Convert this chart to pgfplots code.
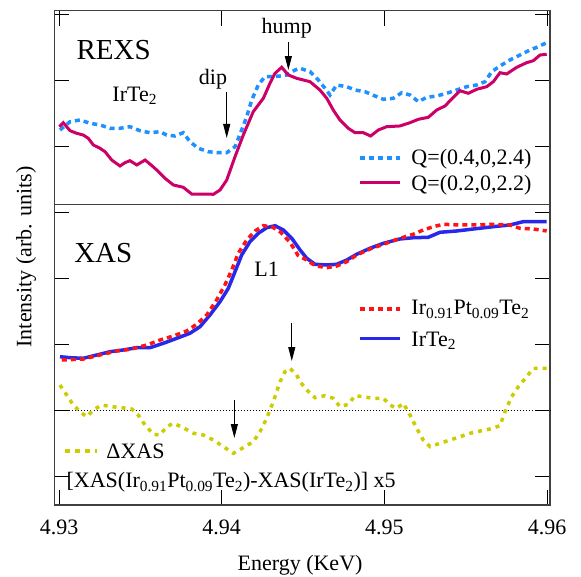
\documentclass[border=0pt]{standalone}
\usepackage{fontspec}
\setmainfont{Liberation Serif}
\usepackage{pgfplots}
\pgfplotsset{compat=1.18}
\usetikzlibrary{arrows.meta}

\definecolor{rexsblue}{RGB}{30,144,255}
\definecolor{rexsmag}{RGB}{204,0,102}
\definecolor{xasblue}{RGB}{40,40,235}
\definecolor{xasred}{RGB}{255,20,20}
\definecolor{dxas}{RGB}{204,204,0}

\newcommand\nf{\fontsize{22}{26}\selectfont}
\newcommand\bigf{\fontsize{29}{34}\selectfont}
\tikzset{arr/.style={line width=1pt, -{Triangle[length=14pt,width=7pt]}}}

\begin{document}
\begin{tikzpicture}
\begin{axis}[
  at={(0,0)}, anchor=south west,
  scale only axis, width=495.5pt, height=494.3pt,
  xmin=4.929723, xmax=4.960184, ymin=-0.4288, ymax=7.0606,
  xtick={4.93,4.94,4.95,4.96},
  xticklabels={4.93,4.94,4.95,4.96},
  ytick={0,...,7}, yticklabels={},
  tick align=inside, major tick length=15pt,
  tick style={black, line width=0.9pt},
  axis line style={black!75, line width=1.2pt},
  font=\nf,
  xticklabel style={yshift=-11.5pt},
  clip=false,
  every node/.append style={inner sep=0pt},
]
% separator between panels and zero line of Delta XAS
\addplot[black!75, line width=1pt] coordinates {(4.929723,4.127) (4.960184,4.127)};
\addplot[black, dotted, line width=1pt] coordinates {(4.929723,1) (4.960184,1)};

% REXS Q=(0.4,0,2.4)
\addplot[rexsblue, line width=3.5pt, dash pattern=on 5pt off 4pt] table {
4.93006 5.253
4.93068 5.379
4.93129 5.405
4.93191 5.355
4.93252 5.329
4.93314 5.279
4.93375 5.279
4.93436 5.303
4.93498 5.242
4.93559 5.212
4.93621 5.227
4.93662 5.177
4.93713 5.162
4.93764 5.212
4.93805 5.076
4.93856 4.976
4.93918 4.924
4.93979 4.909
4.94031 4.909
4.94082 5.000
4.94123 5.253
4.94154 5.455
4.94185 5.708
4.94225 5.935
4.94266 6.061
4.94308 6.061
4.94359 6.071
4.94400 6.086
4.94451 6.162
4.94482 6.188
4.94543 6.136
4.94594 6.011
4.94635 5.885
4.94666 5.783
4.94707 5.935
4.94769 5.909
4.94820 5.859
4.94881 5.833
4.94943 5.768
4.94994 5.718
4.95055 5.733
4.95107 5.818
4.95158 5.783
4.95209 5.682
4.95260 5.748
4.95322 5.768
4.95383 5.809
4.95445 5.859
4.95506 5.909
4.95568 5.935
4.95619 5.985
4.95660 6.136
4.95711 6.223
4.95772 6.314
4.95834 6.389
4.95895 6.465
4.95946 6.515
4.95998 6.576
};

% REXS Q=(0.2,0,2.2)
\addplot[rexsmag, line width=3pt] table {
4.93002 5.303
4.93026 5.364
4.93068 5.242
4.93109 5.203
4.93149 5.177
4.93180 5.127
4.93211 5.026
4.93252 4.976
4.93283 4.924
4.93324 4.798
4.93375 4.708
4.93406 4.758
4.93436 4.788
4.93478 4.723
4.93529 4.798
4.93559 4.738
4.93601 4.647
4.93652 4.521
4.93703 4.420
4.93764 4.385
4.93816 4.283
4.93867 4.283
4.93949 4.279
4.93990 4.344
4.94031 4.495
4.94082 4.848
4.94133 5.177
4.94194 5.530
4.94256 5.733
4.94297 5.961
4.94328 6.112
4.94369 6.203
4.94410 6.086
4.94461 6.036
4.94543 5.985
4.94604 5.859
4.94646 5.733
4.94686 5.556
4.94727 5.405
4.94778 5.279
4.94820 5.212
4.94871 5.212
4.94916 5.162
4.94963 5.253
4.95014 5.303
4.95096 5.314
4.95158 5.364
4.95209 5.415
4.95270 5.445
4.95322 5.556
4.95373 5.617
4.95424 5.748
4.95465 5.848
4.95516 5.809
4.95568 5.870
4.95629 5.909
4.95670 5.985
4.95711 6.121
4.95752 6.102
4.95814 6.203
4.95875 6.273
4.95916 6.303
4.95957 6.389
4.95998 6.400
};

% XAS IrTe2
\addplot[xasblue, line width=3.5pt] table {
4.93006 1.818
4.93068 1.803
4.93149 1.794
4.93232 1.844
4.93314 1.894
4.93395 1.920
4.93478 1.955
4.93559 1.955
4.93641 2.021
4.93724 2.097
4.93805 2.173
4.93867 2.273
4.93928 2.450
4.93990 2.652
4.94041 2.855
4.94082 3.106
4.94123 3.359
4.94174 3.561
4.94225 3.688
4.94277 3.773
4.94328 3.803
4.94379 3.738
4.94431 3.612
4.94482 3.435
4.94523 3.309
4.94574 3.218
4.94646 3.208
4.94707 3.218
4.94769 3.283
4.94830 3.370
4.94912 3.461
4.94994 3.536
4.95096 3.602
4.95178 3.621
4.95270 3.627
4.95342 3.703
4.95445 3.723
4.95547 3.753
4.95670 3.788
4.95772 3.814
4.95854 3.864
4.95916 3.864
4.95998 3.864
};

% XAS Ir0.91Pt0.09Te2
\addplot[xasred, line width=3.5pt, dash pattern=on 5pt off 4pt] table {
4.93017 1.768
4.93149 1.783
4.93252 1.844
4.93355 1.905
4.93436 1.930
4.93539 1.995
4.93621 2.071
4.93703 2.132
4.93785 2.208
4.93846 2.309
4.93908 2.450
4.93969 2.677
4.94020 2.905
4.94062 3.132
4.94102 3.385
4.94154 3.586
4.94205 3.723
4.94256 3.803
4.94308 3.788
4.94359 3.712
4.94420 3.552
4.94471 3.348
4.94523 3.283
4.94574 3.197
4.94646 3.167
4.94707 3.192
4.94769 3.258
4.94830 3.359
4.94912 3.450
4.94994 3.521
4.95096 3.612
4.95178 3.673
4.95239 3.738
4.95301 3.788
4.95362 3.824
4.95465 3.814
4.95568 3.814
4.95670 3.824
4.95772 3.814
4.95834 3.764
4.95916 3.753
4.95998 3.723
};

% Delta XAS x5, zero at y=1
\addplot[dxas, line width=3.5pt, dash pattern=on 4pt off 5pt] table {
4.93006 1.389
4.93047 1.238
4.93088 1.086
4.93129 0.985
4.93170 0.909
4.93211 1.011
4.93262 1.086
4.93324 1.061
4.93385 1.045
4.93447 1.026
4.93487 0.935
4.93529 0.783
4.93580 0.642
4.93621 0.632
4.93662 0.758
4.93703 0.809
4.93764 0.742
4.93826 0.658
4.93887 0.632
4.93949 0.556
4.94010 0.455
4.94072 0.355
4.94133 0.439
4.94194 0.530
4.94236 0.682
4.94277 0.885
4.94317 1.136
4.94359 1.439
4.94389 1.591
4.94420 1.642
4.94461 1.541
4.94482 1.439
4.94523 1.314
4.94574 1.197
4.94635 1.227
4.94686 1.188
4.94727 1.061
4.94778 1.097
4.94820 1.227
4.94871 1.212
4.94932 1.188
4.94994 1.188
4.95035 1.086
4.95076 1.036
4.95117 1.112
4.95158 0.935
4.95199 0.733
4.95239 0.556
4.95281 0.455
4.95342 0.506
4.95404 0.556
4.95465 0.606
4.95527 0.658
4.95588 0.692
4.95650 0.723
4.95711 0.773
4.95742 0.985
4.95783 1.212
4.95824 1.364
4.95875 1.515
4.95916 1.642
4.95998 1.642
};

% panel labels and annotations
\node[anchor=base west, font=\bigf] at (axis cs:4.93086,6.314) {REXS};
\node[anchor=base west, font=\bigf] at (axis cs:4.93072,3.238) {XAS};
\node[anchor=base west] at (axis cs:4.93307,5.682) {IrTe\textsubscript{2}};
\node[anchor=base] at (axis cs:4.93947,5.935) {dip};
\node[anchor=base] at (axis cs:4.94400,6.708) {hump};
\node[anchor=base] at (axis cs:4.94276,3.026) {L1};
\draw[arr] (axis cs:4.94031,5.833) -- (axis cs:4.94031,5.132);
\draw[arr] (axis cs:4.94410,6.591) -- (axis cs:4.94410,6.162);
\draw[arr] (axis cs:4.94078,1.162) -- (axis cs:4.94078,0.586);
\draw[arr] (axis cs:4.94431,2.329) -- (axis cs:4.94431,1.753);

% legends
\draw[rexsblue, line width=3.5pt, dash pattern=on 5pt off 4pt] (axis cs:4.94850,4.829) -- (axis cs:4.95096,4.829);
\node[anchor=base west] at (axis cs:4.95145,4.723) {Q=(0.4,0,2.4)};
\draw[rexsmag, line width=3pt] (axis cs:4.94850,4.450) -- (axis cs:4.95096,4.450);
\node[anchor=base west] at (axis cs:4.95145,4.341) {Q=(0.2,0,2.2)};
\draw[xasred, line width=3.5pt, dash pattern=on 5pt off 4pt] (axis cs:4.94850,2.541) -- (axis cs:4.95096,2.541);
\node[anchor=base west] at (axis cs:4.95145,2.450) {Ir\textsubscript{0.91}Pt\textsubscript{0.09}Te\textsubscript{2}};
\draw[xasblue, line width=3.5pt] (axis cs:4.94850,2.097) -- (axis cs:4.95096,2.097);
\node[anchor=base west] at (axis cs:4.95145,1.980) {IrTe\textsubscript{2}};
\draw[dxas, line width=3.5pt, dash pattern=on 5pt off 5pt] (axis cs:4.93037,0.389) -- (axis cs:4.93234,0.389);
\node[anchor=base west] at (axis cs:4.93270,0.283) {ΔXAS};
\node[anchor=base west] at (axis cs:4.93025,-0.171) {[XAS(Ir\textsubscript{0.91}Pt\textsubscript{0.09}Te\textsubscript{2})-XAS(IrTe\textsubscript{2})] x5};

% axis titles
\node[rotate=90] at (axis cs:4.92798,3.329) {Intensity (arb. units)};
\node at (axis cs:4.94482,-1.335) {Energy (KeV)};
\end{axis}
\pgfresetboundingbox
\path[use as bounding box] (-54.5pt,-71pt) rectangle (526.5pt,505pt);
\end{tikzpicture}
\end{document}
